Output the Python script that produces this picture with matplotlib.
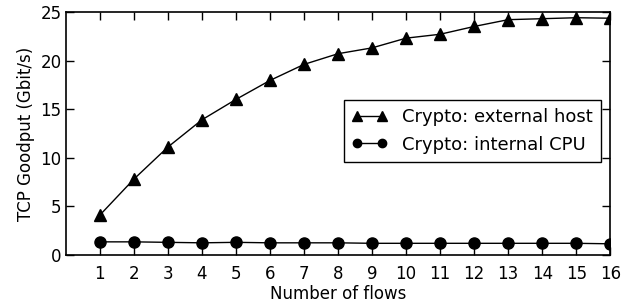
import matplotlib
matplotlib.use("Agg")
import matplotlib.pyplot as plt

flows = list(range(1, 17))
external_host = [4.1, 7.8, 11.1, 13.9, 16.0, 17.95, 19.6, 20.7,
                 21.3, 22.3, 22.7, 23.5, 24.2, 24.3, 24.4, 24.35]
internal_cpu = [1.35, 1.35, 1.3, 1.25, 1.3, 1.25, 1.25, 1.25,
                1.2, 1.2, 1.2, 1.2, 1.2, 1.2, 1.2, 1.15]

plt.rcParams['font.family'] = 'DejaVu Sans'
plt.rcParams['font.size'] = 12

fig = plt.figure(figsize=(6.39, 3.05), dpi=100)
ax = fig.add_axes([0.103, 0.164, 0.852, 0.797])

ax.plot(flows, external_host, color='black', marker='^', markersize=9,
        linewidth=1, label='Crypto: external host')
ax.plot(flows, internal_cpu, color='black', marker='o', markersize=8,
        linewidth=1, label='Crypto: internal CPU')

ax.set_xlim(0, 16)
ax.set_ylim(0, 25)
ax.set_xticks(flows)
ax.set_yticks([0, 5, 10, 15, 20, 25])
ax.tick_params(direction='in', top=True, right=True, length=6, width=1)
ax.tick_params(axis='x', pad=7)
ax.tick_params(axis='y', pad=3)
for s in ax.spines.values():
    s.set_linewidth(1.2)

ax.set_xlabel('Number of flows', labelpad=2)
ax.set_ylabel('TCP Goodput (Gbit/s)')

leg = ax.legend(loc='center right', bbox_to_anchor=(1.0, 0.51), numpoints=2,
                fancybox=False, framealpha=1, edgecolor='black', handlelength=2.0,
                markerscale=0.75, fontsize=13, borderpad=0.45, labelspacing=0.5,
                handletextpad=0.8)
leg.get_frame().set_linewidth(1)

fig.savefig('out.png', dpi=100)
